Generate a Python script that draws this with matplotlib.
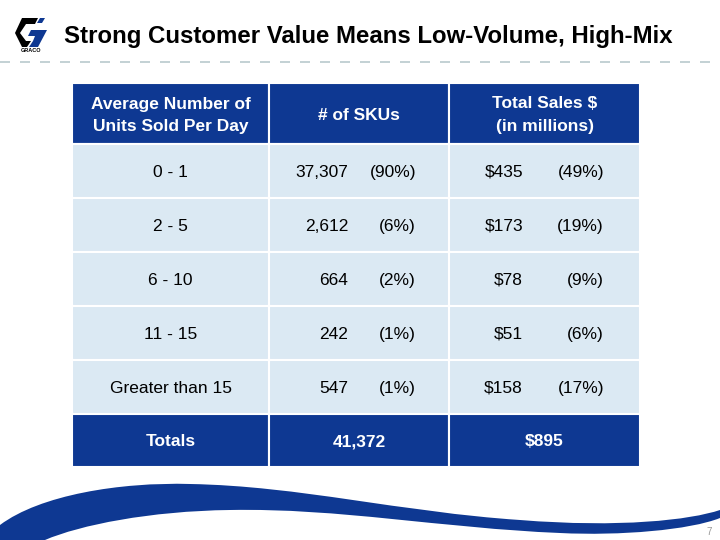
import matplotlib
matplotlib.use("Agg")
import matplotlib.pyplot as plt
from matplotlib.patches import Rectangle, Polygon, PathPatch
from matplotlib.path import Path

# Datos de la tabla
ranges = ["0 - 1", "2 - 5", "6 - 10", "11 - 15", "Greater than 15"]
sku_counts = [37307, 2612, 664, 242, 547]
sku_pct = [90, 6, 2, 1, 1]
sales = [435, 173, 78, 51, 158]
sales_pct = [49, 19, 9, 6, 17]
total_skus = 41372
total_sales = 895
headers = ["Average Number of\nUnits Sold Per Day", "# of SKUs", "Total Sales $\n(in millions)"]

BLUE = "#0e3892"
CELL = "#dbe9f3"
FS = 12.5
plt.rcParams['font.family'] = ['Liberation Sans', 'DejaVu Sans']

fig = plt.figure(figsize=(7.2, 5.4), dpi=100)
ax = fig.add_axes([0, 0, 1, 1])
ax.set_xlim(0, 720)
ax.set_ylim(540, 0)
ax.axis("off")

# Titulo
ax.text(64, 43, "Strong Customer Value Means Low-Volume, High-Mix",
        fontsize=17.3, fontweight="bold", va="baseline", ha="left", color="black")

# Linea punteada
ax.plot([0, 720], [62, 62], color="#b9c9cd", lw=1.2, dashes=(6, 6))

# Logo (aproximado)
ax.add_patch(Polygon([(22, 18), (38, 18), (35, 24), (26, 24), (20, 33), (26, 41),
                      (31, 41), (27, 47), (22, 47), (15, 33)], closed=True, color="black", lw=0))
ax.add_patch(Polygon([(40, 18), (45, 18), (42, 23), (37, 23)], closed=True, color=BLUE, lw=0))
ax.add_patch(Polygon([(31, 30), (47, 30), (38, 47), (29, 47), (33, 41), (35, 36), (28, 36)],
                     closed=True, color=BLUE, lw=0))
ax.text(31, 51, "GRACO", fontsize=4, fontweight="bold", ha="center", va="center")

# Tabla
cols = [72, 269, 449, 640]
centers = [(cols[i] + cols[i + 1]) / 2 for i in range(3)]
top = 83
head_h = 61
row_h = 54
row_top = top + head_h
off = 6  # del centro a la linea base

for i in range(3):
    ax.add_patch(Rectangle((cols[i], top), cols[i + 1] - cols[i], head_h,
                           facecolor=BLUE, edgecolor="white", lw=1.5))
    lines = headers[i].split("\n")
    n = len(lines)
    for k, line in enumerate(lines):
        yb = top + head_h / 2 + off + (k - (n - 1) / 2) * 22
        ax.text(centers[i], yb, line, color="white", fontsize=FS,
                fontweight="bold", ha="center", va="baseline")

for r in range(len(ranges)):
    y0 = row_top + r * row_h
    yb = y0 + row_h / 2 + off
    for i in range(3):
        ax.add_patch(Rectangle((cols[i], y0), cols[i + 1] - cols[i], row_h,
                               facecolor=CELL, edgecolor="white", lw=1.5))
    ax.text(centers[0], yb, ranges[r], fontsize=FS, ha="center", va="baseline")
    ax.text(348, yb, f"{sku_counts[r]:,}", fontsize=FS, ha="right", va="baseline")
    ax.text(416, yb, f"({sku_pct[r]}%)", fontsize=FS, ha="right", va="baseline")
    ax.text(523, yb, f"${sales[r]}", fontsize=FS, ha="right", va="baseline")
    ax.text(604, yb, f"({sales_pct[r]}%)", fontsize=FS, ha="right", va="baseline")

y0 = row_top + len(ranges) * row_h
totals = ["Totals", f"{total_skus:,}", f"${total_sales}"]
for i in range(3):
    ax.add_patch(Rectangle((cols[i], y0), cols[i + 1] - cols[i], 53,
                           facecolor=BLUE, edgecolor="white", lw=1.5))
    ax.text(centers[i], y0 + 26.5 + off, totals[i], color="white", fontsize=FS,
            fontweight="bold", ha="center", va="baseline")

# Onda inferior
verts = [(0, 525), (40, 495), (120, 482), (190, 484),
         (300, 486), (400, 512), (520, 520),
         (620, 528), (690, 520), (720, 510),
         (720, 518),
         (690, 530), (620, 536), (560, 533),
         (440, 528), (340, 508), (230, 510),
         (150, 511), (80, 525), (45, 540),
         (0, 540), (0, 525)]
codes = [Path.MOVETO] + [Path.CURVE4] * 9 + [Path.LINETO] + [Path.CURVE4] * 9 + [Path.LINETO, Path.CLOSEPOLY]
ax.add_patch(PathPatch(Path(verts, codes), facecolor=BLUE, edgecolor="none"))

ax.text(709, 532, "7", fontsize=7, color="#999999", ha="center", va="center")

fig.savefig("out.png", dpi=100)
